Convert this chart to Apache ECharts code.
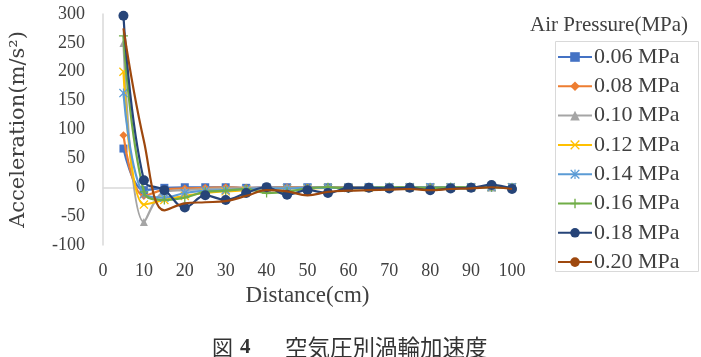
<!DOCTYPE html>
<html>
<head>
<meta charset="utf-8">
<script src="https://cdn.jsdelivr.net/npm/echarts@6/dist/echarts.min.js"></script>
<style>
  html, body { margin: 0; padding: 0; background: #fff; }
  #chart { width: 701px; height: 357px; }
</style>
</head>
<body>
<div id="chart"></div>
<script>
// 距離(cm)
const distance = [5, 10, 15, 20, 25, 30, 35, 40, 45, 50, 55, 60, 65, 70, 75, 80, 85, 90, 95, 100];
const seriesNames = ["0.06 MPa", "0.08 MPa", "0.10 MPa", "0.12 MPa", "0.14 MPa", "0.16 MPa", "0.18 MPa", "0.20 MPa"];
// 空気圧別の加速度
const p006 = [67, -5, -1, 0, 0, 0, -1, 0, 0, 0, 0, 0, 0, 0, 0, 0, 0, 0, 0, 0];
const p008 = [90, -15, -4, -2, -1, 0, -1, -1, 0, 0, -1, 0, 0, 0, 0, 0, 0, 0, 0, 0];
const p010 = [250, -60, -8, -5, -3, -2, -2, -1, -1, 0, -1, -1, 0, 0, 0, 0, 0, 0, 0, 0];
const p012 = [200, -30, -22, -15, -10, -7, -5, -3, -2, -2, -1, -1, -1, 0, 0, -1, 0, 0, 0, 0];
const p014 = [163, -12, -18, -10, -6, -5, -3, -2, -2, -1, -1, -1, 0, 0, 0, 0, 0, 0, 0, 0];
const p016 = [262, -8, -22, -18, -8, -6, -3, -10, -8, -2, 0, -2, -1, 0, 0, -1, 0, 0, 0, -1];
const p018 = [297, 12, -5, -35, -14, -22, -10, 0, -13, -5, -10, -1, -1, -2, -1, -5, -2, -1, 4, -3];
const p020 = [275, 80, -40, -28, -26, -24, -15, -5, -7, -14, -8, -6, -5, -4, -3, -5, -3, -2, 0, -3];
const yTicks = [-100, -50, 0, 50, 100, 150, 200, 250, 300];

const colors = ["#4472c4", "#ed7d31", "#a5a5a5", "#ffc000", "#5b9bd5", "#70ad47", "#264478", "#9e480e"];
const xMark = "path://M1,0L5,4L9,0L10,1L6,5L10,9L9,10L5,6L1,10L0,9L4,5L0,1Z";
const plusMark = "path://M4.3,0H5.7V4.3H10V5.7H5.7V10H4.3V5.7H0V4.3H4.3Z";
const starMark = "path://M1,0L5,4L9,0L10,1L6,5L10,9L9,10L5,6L1,10L0,9L4,5L0,1ZM4.4,0H5.6V10H4.4Z";
const symbols = ["rect", "diamond", "triangle", xMark, starMark, plusMark, "circle", "none"];
const sizes = [8, 8, 8, 9, 9, 9, 10, 0];
const allData = [p006, p008, p010, p012, p014, p016, p018, p020];

const serif = "'Liberation Serif', 'DejaVu Serif', serif";
const chart = echarts.init(document.getElementById("chart"));

const series = allData.map((vals, i) => ({
  name: seriesNames[i],
  type: "line",
  smooth: 0.4,
  data: vals.map((v, k) => [distance[k], v]),
  symbol: symbols[i],
  symbolSize: sizes[i],
  showSymbol: symbols[i] !== "none",
  lineStyle: { width: 2.2, color: colors[i] },
  itemStyle: { color: colors[i] },
  z: 2 + i,
}));

chart.setOption({
  animation: false,
  color: colors,
  grid: { left: 103, right: 189, top: 14, bottom: 112 },
  xAxis: {
    type: "value",
    min: 0,
    max: 100,
    interval: 10,
    name: "Distance(cm)",
    nameLocation: "middle",
    nameGap: 38,
    nameTextStyle: { fontFamily: serif, fontSize: 23, color: "#404040" },
    axisLine: { show: true, lineStyle: { color: "#d9d9d9", width: 1.5 } },
    axisTick: { show: false },
    splitLine: { show: false },
    axisLabel: { margin: 17, fontFamily: serif, fontSize: 18, color: "#404040" },
  },
  yAxis: {
    type: "value",
    min: yTicks[0],
    max: yTicks[yTicks.length - 1],
    interval: 50,
    name: "Acceleration(m/s²)",
    nameLocation: "middle",
    nameGap: 74,
    nameTextStyle: { fontFamily: "'DejaVu Serif', serif", fontSize: 21, color: "#404040" },
    axisLine: { show: true, lineStyle: { color: "#d9d9d9", width: 1.5 } },
    axisTick: { show: false },
    splitLine: { show: false },
    axisLabel: { margin: 18, fontFamily: serif, fontSize: 18, color: "#404040" },
  },
  legend: {
    orient: "vertical",
    left: 553,
    top: 39,
    padding: [7, 12, 4, 4],
    itemWidth: 34,
    itemHeight: 12,
    itemGap: 7.3,
    textStyle: { fontFamily: serif, fontSize: 22, lineHeight: 21, color: "#404040", padding: [0, 0, 0, -3] },
    data: seriesNames,
  },
  graphic: [
    {
      type: "rect",
      left: 553,
      top: 39,
      shape: { width: 143, height: 230 },
      style: { fill: "none", stroke: "#d9d9d9", lineWidth: 1 },
    },
    {
      type: "text",
      left: 530,
      top: 15,
      style: { text: "Air Pressure(MPa)", font: "21px " + serif, fill: "#404040" },
    },
    {
      type: "text",
      left: 212,
      top: 337,
      style: { text: "図", font: "21px 'Noto Sans CJK JP'", fill: "#333" },
    },
    {
      type: "text",
      left: 240,
      top: 337,
      style: { text: "4", font: "bold 21px " + serif, fill: "#333" },
    },
    {
      type: "text",
      left: 285,
      top: 336,
      style: { text: "空気圧別渦輪加速度", font: "22.5px 'Noto Sans CJK JP'", fill: "#333" },
    },
  ],
  series: series,
});
</script>
</body>
</html>
